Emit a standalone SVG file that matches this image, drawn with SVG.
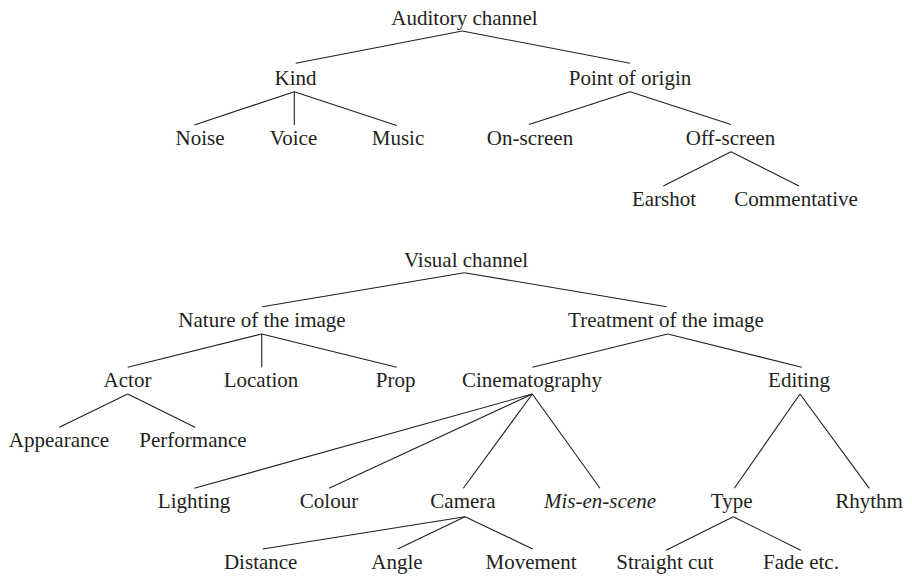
<svg xmlns="http://www.w3.org/2000/svg" width="912" height="576" viewBox="0 0 912 576">
<style>
text{font-family:"Liberation Serif","Times New Roman",serif;font-size:21px;fill:#231f20;text-anchor:middle}
.it{font-style:italic}
#connectors line{stroke:#231f20;stroke-width:1.1;fill:none}
</style>
<rect width="912" height="576" fill="#fff"/>
<g id="connectors">
<line x1="462.3" y1="31" x2="295.7" y2="63.3"/>
<line x1="462.3" y1="31" x2="630" y2="63.3"/>
<line x1="294.3" y1="91.7" x2="194.3" y2="125"/>
<line x1="294.3" y1="91.7" x2="294.3" y2="125"/>
<line x1="294.3" y1="91.7" x2="396.7" y2="125.5"/>
<line x1="630" y1="91.7" x2="529" y2="124.5"/>
<line x1="630" y1="91.7" x2="731" y2="124.5"/>
<line x1="731" y1="151.7" x2="663.3" y2="186"/>
<line x1="731" y1="151.7" x2="799" y2="186"/>
<line x1="464.3" y1="272.7" x2="262.3" y2="306.7"/>
<line x1="464.3" y1="272.7" x2="666.7" y2="306.7"/>
<line x1="261.7" y1="334" x2="127.7" y2="367.3"/>
<line x1="261.7" y1="334" x2="261.7" y2="367.3"/>
<line x1="261.7" y1="334" x2="396.7" y2="367.3"/>
<line x1="127.7" y1="394" x2="59.3" y2="427.3"/>
<line x1="127.7" y1="394" x2="195" y2="427.3"/>
<line x1="667.7" y1="334" x2="532.3" y2="367.3"/>
<line x1="667.7" y1="334" x2="801.7" y2="367.3"/>
<line x1="532.3" y1="394" x2="194.3" y2="488.3"/>
<line x1="532.3" y1="394" x2="329" y2="488.3"/>
<line x1="532.3" y1="394" x2="463.3" y2="488.3"/>
<line x1="532.3" y1="394" x2="600" y2="488.3"/>
<line x1="800" y1="394" x2="734.3" y2="488.3"/>
<line x1="800" y1="394" x2="869.3" y2="488.3"/>
<line x1="465" y1="516.7" x2="262.7" y2="549"/>
<line x1="465" y1="516.7" x2="397.7" y2="549"/>
<line x1="465" y1="516.7" x2="532.7" y2="549"/>
<line x1="733.3" y1="516.7" x2="666" y2="550.3"/>
<line x1="733.3" y1="516.7" x2="800.7" y2="550.3"/>
</g>
<g id="auditory"><text x="464.5" y="25">Auditory channel</text></g>
<g id="kind"><text x="295.5" y="85">Kind</text></g>
<g id="point-of-origin"><text x="630" y="85">Point of origin</text></g>
<g id="noise"><text x="200" y="145">Noise</text></g>
<g id="voice"><text x="293.5" y="145">Voice</text></g>
<g id="music"><text x="398" y="145">Music</text></g>
<g id="on-screen"><text x="530" y="145">On-screen</text></g>
<g id="off-screen"><text x="730.5" y="145">Off-screen</text></g>
<g id="earshot"><text x="664" y="206">Earshot</text></g>
<g id="commentative"><text x="796" y="206">Commentative</text></g>
<g id="visual"><text x="466" y="266.7">Visual channel</text></g>
<g id="nature"><text x="262" y="326.7">Nature of the image</text></g>
<g id="treatment"><text x="666" y="326.7">Treatment of the image</text></g>
<g id="actor"><text x="127.5" y="386.7">Actor</text></g>
<g id="location"><text x="261" y="386.7">Location</text></g>
<g id="prop"><text x="395.7" y="386.7">Prop</text></g>
<g id="cinematography"><text x="532" y="386.7">Cinematography</text></g>
<g id="editing"><text x="799" y="386.7">Editing</text></g>
<g id="appearance"><text x="59" y="447.3">Appearance</text></g>
<g id="performance"><text x="193" y="447.3">Performance</text></g>
<g id="lighting"><text x="194" y="508.3">Lighting</text></g>
<g id="colour"><text x="329" y="508.3">Colour</text></g>
<g id="camera"><text x="463" y="508.3">Camera</text></g>
<g id="mis-en-scene"><text class="it" x="600" y="508.3">Mis-en-scene</text></g>
<g id="type"><text x="731.7" y="508.3">Type</text></g>
<g id="rhythm"><text x="869" y="508.3">Rhythm</text></g>
<g id="distance"><text x="260.7" y="569">Distance</text></g>
<g id="angle"><text x="397" y="569">Angle</text></g>
<g id="movement"><text x="531" y="569">Movement</text></g>
<g id="straight-cut"><text x="665" y="569">Straight cut</text></g>
<g id="fade"><text x="801" y="569">Fade etc.</text></g>
</svg>
